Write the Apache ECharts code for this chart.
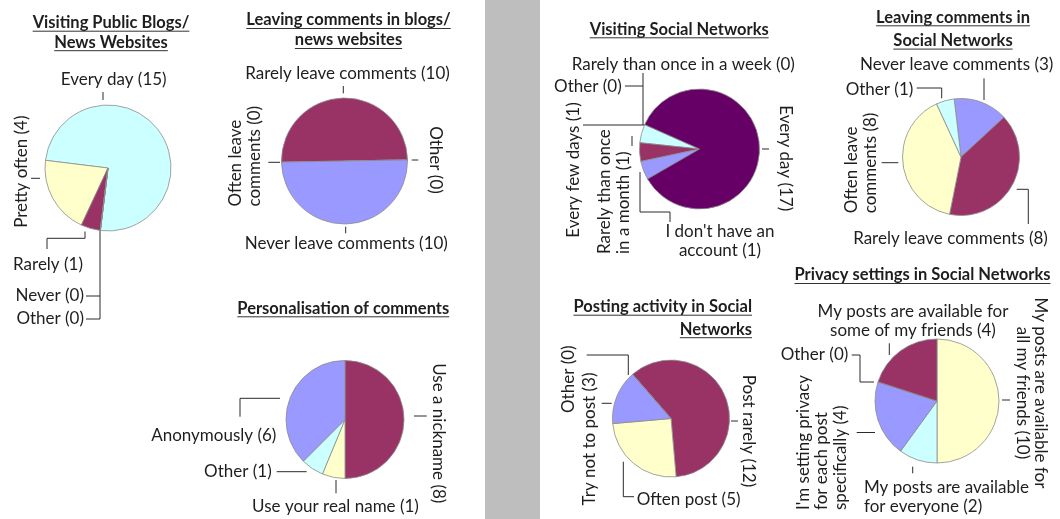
<!DOCTYPE html>
<html><head><meta charset="utf-8">
<script src="https://cdn.jsdelivr.net/npm/echarts@6/dist/echarts.min.js"></script>
<style>html,body{margin:0;padding:0;background:#fff;}#c{width:1060px;height:519px;}</style>
</head><body><div id="c"></div>
<script>
// ---------- DATA ----------
const blogVisitNames = ['Every day', 'Pretty often', 'Rarely', 'Never', 'Other'];
const blogVisitValues = [15, 4, 1, 0, 0];

const blogCommentNames = ['Often leave\ncomments', 'Rarely leave comments', 'Other', 'Never leave comments'];
const blogCommentValues = [0, 10, 0, 10];

const personalNames = ['Use a nickname', 'Use your real name', 'Other', 'Anonymously'];
const personalValues = [8, 1, 1, 6];

const snVisitNames = ['Rarely than once in a week', 'Other', 'Every few days', 'Rarely than once\nin a month', "I don't have an\naccount", 'Every day'];
const snVisitValues = [0, 0, 1, 1, 1, 17];

const snCommentNames = ['Never leave comments', 'Rarely leave comments', 'Often leave\ncomments', 'Other'];
const snCommentValues = [3, 8, 8, 1];

const postingNames = ['Post rarely', 'Often post', 'Try not to post', 'Other'];
const postingValues = [12, 5, 3, 0];

const privacyNames = ['My posts are available for\nall my friends', 'My posts are available\nfor everyone', "I'm setting privacy\nfor each post\nspecifically", 'Other', 'My posts are available for\nsome of my friends'];
const privacyValues = [10, 2, 4, 0, 4];

const chartTitles = [
  ['Visiting Public Blogs/', 'News Websites'],
  ['Leaving comments in blogs/', 'news websites'],
  ['Personalisation of comments'],
  ['Visiting Social Networks'],
  ['Leaving comments in', 'Social Networks'],
  ['Posting activity in Social', 'Networks'],
  ['Privacy settings in Social Networks']
];

// ---------- STYLE / LAYOUT ----------
const CY = '#CCFFFF', YE = '#FFFFCC', MA = '#993366', PE = '#9999FF', PU = '#660066';
const FONT = 'Lato, "Open Sans", sans-serif';
const TXT = '#1e1e1e';

function L(x, y, r, a, line) { return { x: x, y: y, r: r, a: a, line: line }; }

const pies = [
  { names: blogVisitNames, values: blogVisitValues, colors: [CY, YE, MA, PE, PU],
    center: [108, 168], r: 63, start: -97, cw: false,
    lay: [
      L(113.7, 80, 0, 'center', [[103, 92], [103, 100]]),
      L(21.5, 171.7, 90, 'center', [[31, 178.3], [40, 178.3]]),
      L(48, 265, 0, 'center', [[85, 231.5], [85, 238.3], [47, 238.3], [47, 249]]),
      L(84, 296, 0, 'right', [[86, 296], [100, 296]]),
      L(84, 318.7, 0, 'right', [[86, 319], [100, 319], [100, 231]])
    ] },
  { names: blogCommentNames, values: blogCommentValues, colors: [YE, MA, CY, PE],
    center: [344.5, 161], r: 63, start: 181, cw: true,
    lay: [
      L(245, 206.5, 90, 'left', [[268.3, 162.3], [280, 162.3]]),
      L(347.5, 73.3, 0, 'center', [[343.3, 86], [343.3, 93.3]]),
      L(435, 160, -90, 'center', [[411.7, 160], [418.3, 160]]),
      L(346.3, 244, 0, 'center', [[345.7, 226.7], [345.7, 233.3]])
    ] },
  { names: personalNames, values: personalValues, colors: [MA, YE, CY, PE],
    center: [345, 419.5], r: 59, start: 90, cw: true,
    lay: [
      L(438.3, 433.3, -90, 'center', [[414, 416], [426.7, 416]]),
      L(335.5, 506.7, 0, 'center', [[336, 480], [336, 493.3]]),
      L(271.7, 471.7, 0, 'right', [[276.7, 471.7], [306.7, 471.7]]),
      L(213.8, 436, 0, 'center', [[280, 398.3], [240, 398.3], [240, 416.7]])
    ] },
  { names: snVisitNames, values: snVisitValues, colors: [YE, YE, CY, MA, PE, PU],
    center: [699.5, 149], r: 60, start: 156, cw: false,
    lay: [
      L(683.3, 65, 0, 'center', [[643, 73], [643, 125]]),
      L(621.7, 86.7, 0, 'right', [[625, 86], [643, 86]]),
      L(573.3, 170, 90, 'center', [[583, 125], [645, 125]]),
      L(614.2, 254, 90, 'left', [[632, 136], [632, 146]]),
      L(720, 240.8, 0, 'center', [[640, 172], [640, 212], [670, 212], [670, 222]]),
      L(785, 158.3, -90, 'center', [[762, 149], [769, 149]])
    ] },
  { names: snCommentNames, values: snCommentValues, colors: [PE, MA, YE, CY],
    center: [961, 157], r: 58.5, start: 96.7, cw: true,
    lay: [
      L(956.7, 65, 0, 'center', [[984, 78.3], [984, 100]]),
      L(950.5, 239, 0, 'center', [[1016.7, 189.3], [1028.3, 189.3], [1028.3, 224]]),
      L(861, 213.3, 90, 'left', [[881.7, 162.7], [898.3, 162.7]]),
      L(913.3, 89.3, 0, 'right', [[916.7, 88], [941.7, 88], [941.7, 98.3]])
    ] },
  { names: postingNames, values: postingValues, colors: [MA, YE, PE, CY],
    center: [671, 418.5], r: 58.5, start: 131, cw: true,
    lay: [
      L(748.3, 431, -90, 'center', [[731, 421], [738, 421]]),
      L(636.7, 500, 0, 'left', [[623.3, 461.7], [623.3, 496.7], [634, 496.7]]),
      L(590, 439, 90, 'center', [[601.7, 403.3], [611.7, 403.3]]),
      L(568.3, 379.2, 90, 'center', [[586.7, 355], [628.3, 355], [628.3, 375]])
    ] },
  { names: privacyNames, values: privacyValues, colors: [YE, CY, PE, PU, MA],
    center: [937, 401], r: 62, start: 90, cw: true,
    lay: [
      L(1031.7, 393, -90, 'center', [[1002, 400], [1010, 400]]),
      L(864, 497.2, 0, 'left', [[912.7, 466.7], [912.7, 473.3]]),
      L(821.7, 510, 90, 'left', [[856.7, 432.5], [875, 432.5]]),
      L(848.3, 355, 0, 'right', [[851.7, 355], [860, 355], [860, 382], [874, 382]]),
      L(913, 320.8, 0, 'center', [[889.3, 343.3], [889.3, 355]])
    ] }
];

// title placement: [x, y of first line, align, line gap]
const titlePos = [
  [111, 22.7, 'center', 19.5],
  [348.5, 20, 'center', 20],
  [343.3, 308.3, 'center', 20],
  [679.2, 29.3, 'center', 20],
  [953, 17.3, 'center', 23.3],
  [752, 306.7, 'right', 22.5],
  [922.5, 275, 'center', 20]
];

const chart = echarts.init(document.getElementById('c'), null, { renderer: 'canvas' });

const series = pies.map(function (p, k) {
  return {
    type: 'pie',
    center: p.center,
    radius: p.r,
    startAngle: p.start,
    clockwise: p.cw,
    animation: false,
    silent: true,
    avoidLabelOverlap: false,
    stillShowZeroSum: true,
    emphasis: { disabled: true, scale: false },
    itemStyle: { borderColor: '#8c8c8c', borderWidth: 0.8 },
    label: {
      show: true, position: 'outside', formatter: '{b} ({c})',
      fontFamily: FONT, fontSize: 17, color: TXT, lineHeight: 18.5
    },
    labelLine: { show: true, lineStyle: { color: '#2a2a2a', width: 1 } },
    labelLayout: function (prm) {
      const s = pies[k].lay[prm.dataIndex];
      return { x: s.x, y: s.y, rotate: s.r, align: s.a, verticalAlign: 'middle', labelLinePoints: s.line };
    },
    data: p.names.map(function (n, i) {
      return { name: n, value: p.values[i], itemStyle: { color: p.colors[i] } };
    })
  };
});

// title graphics with underline
const ctx = document.createElement('canvas').getContext('2d');
const TFONT = 'bold 16.5px ' + FONT;
ctx.font = TFONT;
const graphics = [{ type: 'rect', shape: { x: 485, y: 0, width: 55, height: 519 }, style: { fill: '#BEBEBE' }, z: -1 }];
chartTitles.forEach(function (lines, k) {
  const tp = titlePos[k];
  lines.forEach(function (t, j) {
    const y = tp[1] + j * tp[3];
    graphics.push({ type: 'text', x: tp[0], y: y,
      style: { text: t, font: TFONT, fill: TXT, align: tp[2], verticalAlign: 'middle', textAlign: tp[2], textVerticalAlign: 'middle' } });
    const w = ctx.measureText(t).width;
    let x0 = tp[0] - w / 2;
    if (tp[2] === 'right') x0 = tp[0] - w;
    graphics.push({ type: 'line', shape: { x1: x0, y1: y + 8.5, x2: x0 + w, y2: y + 8.5 }, style: { stroke: '#333', lineWidth: 1 } });
  });
});

chart.setOption({
  backgroundColor: '#ffffff',
  animation: false,
  graphic: graphics,
  series: series
});
</script></body></html>
